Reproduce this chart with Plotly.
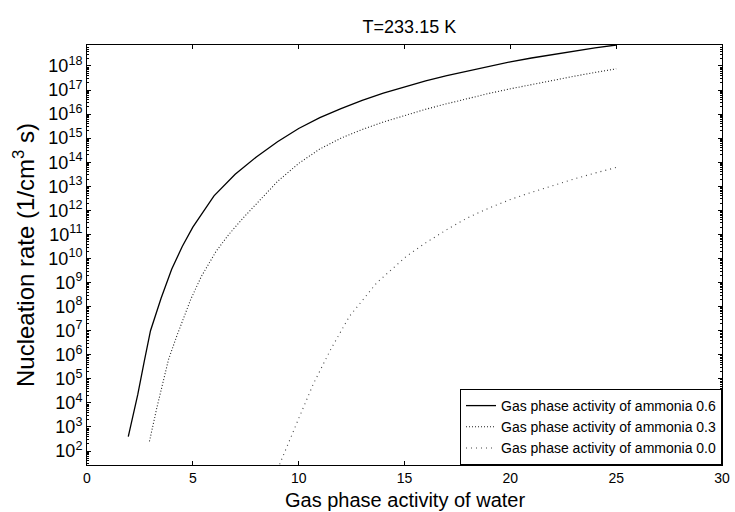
import plotly.graph_objects as go

# Gas phase activity of water (x) and log10 nucleation rate (1/cm^3 s)
x_nh3_06 = [1.95, 2.4, 2.7, 3.0, 3.5, 4.0, 4.5, 5.0, 6.0, 7.0, 8.0, 9.0, 10.0, 11.0, 12.0,
            13.0, 14.0, 15.0, 16.0, 17.0, 18.0, 19.0, 20.0, 21.0, 22.0, 23.0, 24.0, 25.0]
logJ_nh3_06 = [2.6, 4.35, 5.7, 7.0, 8.35, 9.55, 10.5, 11.3, 12.6, 13.5, 14.22, 14.85, 15.4, 15.85, 16.23,
               16.57, 16.87, 17.13, 17.38, 17.6, 17.8, 17.99, 18.17, 18.33, 18.48, 18.62, 18.75, 18.87]

x_nh3_03 = [2.95, 3.3, 3.85, 4.25, 4.9, 5.4, 6.1, 6.7, 7.5, 8.2, 9.0, 10.0, 11.0, 12.0, 13.0,
            14.0, 15.0, 16.0, 17.0, 18.0, 19.0, 20.0, 21.0, 22.0, 23.0, 24.0, 25.0]
logJ_nh3_03 = [2.4, 3.8, 5.8, 6.8, 8.3, 9.25, 10.3, 11.0, 11.8, 12.45, 13.2, 13.95, 14.55, 15.0, 15.36,
               15.67, 15.95, 16.2, 16.43, 16.65, 16.86, 17.05, 17.23, 17.4, 17.57, 17.73, 17.88]

x_nh3_00 = [9.1, 9.5, 10.0, 10.7, 11.5, 12.4, 13.7, 15.1, 16.0, 17.0, 18.0, 19.0, 20.0, 21.0,
            22.0, 23.0, 24.0, 25.0]
logJ_nh3_00 = [1.45, 2.26, 3.35, 4.8, 6.2, 7.6, 9.0, 10.1, 10.65, 11.2, 11.7, 12.1, 12.45, 12.75,
               13.03, 13.3, 13.55, 13.78]

series_names = ["Gas phase activity of ammonia 0.6",
                "Gas phase activity of ammonia 0.3",
                "Gas phase activity of ammonia 0.0"]

x_ticks = [0, 5, 10, 15, 20, 25, 30]
y_tick_exponents = list(range(2, 19))

fig = go.Figure()
fig.add_trace(go.Scatter(x=x_nh3_06, y=[10 ** v for v in logJ_nh3_06], mode="lines",
                         name=series_names[0], line=dict(color="black", width=1.3, dash="solid")))
fig.add_trace(go.Scatter(x=x_nh3_03, y=[10 ** v for v in logJ_nh3_03], mode="lines",
                         name=series_names[1], line=dict(color="#222222", width=1.1, dash="1px,2px")))
fig.add_trace(go.Scatter(x=x_nh3_00, y=[10 ** v for v in logJ_nh3_00], mode="lines",
                         name=series_names[2], line=dict(color="#444444", width=1.1, dash="1px,4px")))

font_family = "Liberation Sans, Arial, sans-serif"

fig.update_layout(
    width=735, height=512,
    margin=dict(l=87, r=13, t=45, b=47, autoexpand=False),
    paper_bgcolor="white", plot_bgcolor="white",
    font=dict(family=font_family, color="black"),
    title=dict(text="T=233.15 K", x=0.557, xanchor="center", y=0.947, yanchor="middle",
               font=dict(size=18, family=font_family, color="black")),
    showlegend=True,
    legend=dict(x=1, y=0, xanchor="right", yanchor="bottom", bgcolor="white",
                bordercolor="black", borderwidth=1, font=dict(size=14, family=font_family),
                itemwidth=30, tracegroupgap=0),
    xaxis=dict(range=[0, 30], tickvals=x_ticks, ticktext=[str(v) for v in x_ticks],
               ticks="inside", ticklen=4, tickcolor="black", showline=True, linecolor="black",
               linewidth=1, mirror="ticks", showgrid=False, zeroline=False, automargin=False,
               tickfont=dict(size=14, family=font_family)),
    yaxis=dict(type="log", range=[1.42, 18.87],
               tickvals=[10 ** e for e in y_tick_exponents],
               ticktext=["10<sup>%d</sup>" % e for e in y_tick_exponents],
               ticks="inside", ticklen=4, tickcolor="black", showline=True, linecolor="black",
               linewidth=1, mirror="ticks", showgrid=False, zeroline=False, automargin=False,
               minor=dict(ticks="inside", ticklen=2, tickcolor="black", dtick="D1", showgrid=False),
               tickfont=dict(size=18, family=font_family),
               title=dict(text="Nucleation rate (1/cm<sup>3</sup> s)", standoff=6,
                          font=dict(size=24, family=font_family))),
    annotations=[dict(text="Gas phase activity of water", xref="paper", yref="paper",
                      x=0.5, y=-0.1119, xanchor="center", yanchor="bottom", showarrow=False,
                      borderpad=0, font=dict(size=20, family=font_family, color="black"))],
)

fig.write_html("out.html")
